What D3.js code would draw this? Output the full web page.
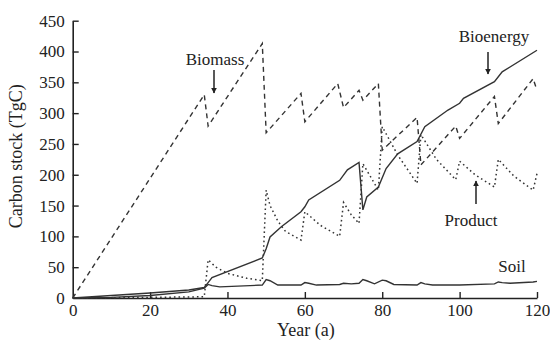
<!DOCTYPE html>
<html>
<head>
<meta charset="utf-8">
<script src="https://cdn.jsdelivr.net/npm/d3@7"></script>
<style>
  body { margin: 0; background: #fff; }
  text { font-family: "Liberation Serif", "Times New Roman", serif; fill: #222; }
</style>
</head>
<body>
<div id="chart"></div>
<script>
// data: [year, carbon stock TgC]
var biomass = [[0,0],[34,330],[35,279],[49,413],[50,268],[59,332],[60,286],[68.5,348],[70,309],[74,337],[75,321],[79,348],[80,240],[89,293],[90,216],[99,279],[100,259],[109,327],[110,283],[119,356],[120,337]];

var product = [[0,0],[20,1],[34,2],[35,62],[37,50],[40,40],[45,32],[49,28],[50,175],[51,150],[53,125],[55,108],[59,94],[60,140],[64,118],[69,100],[70,155],[72,135],[74,121],[75,218],[79,175],[80,278],[84,232],[89,186],[90,265],[94,225],[99,192],[100,222],[104,200],[109,180],[110,225],[114,198],[119,175],[120,202]];

var bioenergy = [[0,0],[10,4],[20,8],[30,13],[34,17],[35,25],[36,33],[49,65],[50,80],[51,99],[54,116],[59,140],[60,148],[61,159],[69,191],[71,208],[74,220],[75,143],[76,164],[79,180],[81,210],[84,234],[89,254],[91,278],[97,305],[100,316],[101,324],[109,351],[111,367],[120,402]];

var soil = [[0,0],[10,1],[20,4],[30,10],[34,16],[35,22],[36,20],[38,18],[49,21],[50,30],[51,28],[53,21],[59,21],[60,25],[61,24],[63,21],[69,22],[70,24],[72,23],[74,24],[75,30],[76,28],[78,23],[80,29],[81,28],[83,22],[89,21],[90,25],[91,23],[93,21],[100,21],[109,23],[110,26],[111,25],[113,24],[119,26],[120,27]];

var xTicks = [0, 20, 40, 60, 80, 100, 120];
var yTicks = [0, 50, 100, 150, 200, 250, 300, 350, 400, 450];

// labels with arrows: [text, x, y, arrow x1, y1, x2, y2]
var labels = [
  ["Biomass", 215, 65, 214, 70, 214, 93],
  ["Bioenergy", 494, 42, 488, 52, 488, 74],
  ["Product", 471, 226, 476, 204, 476, 181],
  ["Soil", 512, 272]
];

var margin = { top: 20.7, right: 13, bottom: 43, left: 72.7 },
    width = 550 - margin.left - margin.right,
    height = 341 - margin.top - margin.bottom;

var svg = d3.select("#chart")
    .append("svg")
    .attr("width", 550)
    .attr("height", 341)
    .append("g")
    .attr("transform", `translate(${margin.left} ${margin.top})`);

var x = d3.scaleLinear().domain([0, 120]).range([0, width]);
var y = d3.scaleLinear().domain([0, 450]).range([height, 0]);

// axes, ticks pointing inward
var xAxis = svg.append("g")
    .attr("transform", "translate(0," + height + ")")
    .call(d3.axisBottom(x).tickValues(xTicks).tickSizeInner(-6).tickSizeOuter(0).tickPadding(6));
var yAxis = svg.append("g")
    .call(d3.axisLeft(y).tickValues(yTicks).tickSizeInner(-6).tickSizeOuter(0).tickPadding(8));

[xAxis, yAxis].forEach(function (a) {
    a.select(".domain").attr("stroke", "#222").attr("stroke-width", 1.6);
    a.selectAll(".tick line").attr("stroke", "#222").attr("stroke-width", 1.4);
    a.selectAll(".tick text")
        .style("font-family", '"Liberation Serif", serif')
        .style("font-size", "17px")
        .attr("fill", "#222");
});
yAxis.selectAll(".tick").filter(function (d) { return d === 0; }).select("line").remove();
xAxis.selectAll(".tick").filter(function (d) { return d === 0; }).select("line").remove();

// axis titles
svg.append("text")
    .attr("x", width / 2 + 1)
    .attr("y", height + 38)
    .attr("text-anchor", "middle")
    .style("font-size", "18px")
    .text("Year (a)");

svg.append("text")
    .attr("transform", "translate(" + (-51) + "," + (height / 2 - 3) + ")rotate(-90)")
    .attr("text-anchor", "middle")
    .style("font-size", "18px")
    .text("Carbon stock (TgC)");

// series lines
var line = d3.line()
    .x(function (d) { return x(d[0]); })
    .y(function (d) { return y(d[1]); });

var series = [
    { data: soil, dash: null, w: 1.4 },
    { data: product, dash: "1.6,3", w: 1.5 },
    { data: biomass, dash: "5,4", w: 1.4 },
    { data: bioenergy, dash: null, w: 1.4 }
];

svg.selectAll(".series")
    .data(series)
    .enter()
    .append("path")
    .attr("class", "series")
    .attr("d", function (d) { return line(d.data); })
    .attr("fill", "none")
    .attr("stroke", "#333")
    .attr("stroke-width", function (d) { return d.w; })
    .attr("stroke-dasharray", function (d) { return d.dash; });

// annotations
var defs = d3.select("svg").append("defs");
defs.append("marker")
    .attr("id", "head")
    .attr("viewBox", "0 0 10 10")
    .attr("refX", 9).attr("refY", 5)
    .attr("markerWidth", 6).attr("markerHeight", 9)
    .attr("markerUnits", "userSpaceOnUse")
    .attr("orient", "auto")
    .append("path")
    .attr("d", "M0,0L10,5L0,10Z")
    .attr("fill", "#222");

var ann = d3.select("svg").append("g");
labels.forEach(function (l) {
    ann.append("text")
        .attr("x", l[1]).attr("y", l[2])
        .attr("text-anchor", "middle")
        .style("font-size", "17px")
        .text(l[0]);
    if (l.length > 3) {
        ann.append("line")
            .attr("x1", l[3]).attr("y1", l[4])
            .attr("x2", l[5]).attr("y2", l[6])
            .attr("stroke", "#222")
            .attr("stroke-width", 1.5)
            .attr("marker-end", "url(#head)");
    }
});
</script>
</body>
</html>
